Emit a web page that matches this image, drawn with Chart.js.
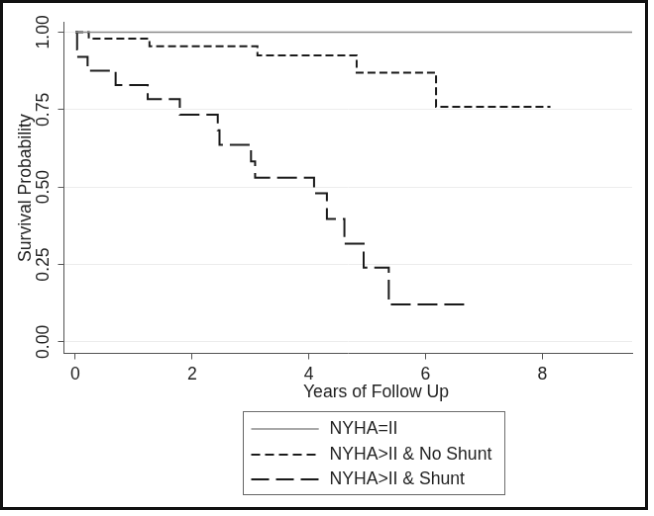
<!DOCTYPE html>
<html>
<head>
<meta charset="utf-8">
<title>Survival by NYHA class and shunt</title>
<script src="https://cdn.jsdelivr.net/npm/chart.js@4.4.0/dist/chart.umd.min.js"></script>
<style>
  html, body { margin: 0; padding: 0; background: #fff; }
  #km { display: block; border: 3px solid #111; }
</style>
</head>
<body>
<canvas id="km" width="648" height="510"></canvas>
<script>
// Kaplan-Meier estimates (time in years, survival probability)
const seriesLabels = ['NYHA=II', 'NYHA>II & No Shunt', 'NYHA>II & Shunt'];

const nyha2Times = [0, 9.54];
const nyha2Surv  = [1, 1];

const noShuntTimes = [0, 0.23, 1.27, 3.12, 4.82, 6.18, 8.14];
const noShuntSurv  = [1, 0.979, 0.954, 0.925, 0.869, 0.759, 0.759];

const shuntTimes = [0, 0.03, 0.05, 0.21, 0.69, 1.24, 1.79, 2.44, 2.47, 3.01, 3.08, 4.09, 4.31, 4.61, 4.94, 5.37, 6.76];
const shuntSurv  = [1, 0.944, 0.92, 0.875, 0.829, 0.784, 0.733, 0.683, 0.636, 0.583, 0.53, 0.48, 0.397, 0.317, 0.24, 0.121, 0.121];

const xTicks = [0, 2, 4, 6, 8];
const yTicks = [0, 0.25, 0.5, 0.75, 1];

const xTitle = 'Years of Follow Up';
const yTitle = 'Survival Probability';

const FONT = '"Liberation Sans", Arial, sans-serif';
const FONT_SIZE = 17.6;
const AXIS = '#555';

const toPoints = (times, surv) => times.map((t, i) => ({ x: t, y: surv[i] }));

// x title and boxed legend are drawn by hand (Stata style)
const kmExtras = {
    id: 'kmExtras',
    afterDraw(chart) {
        const ctx = chart.ctx;
        ctx.save();
        ctx.fillStyle = '#222';
        ctx.font = FONT_SIZE + 'px ' + FONT;
        ctx.textAlign = 'center';
        ctx.textBaseline = 'middle';
        ctx.fillText(xTitle, 376.5, 394);

        // legend box
        ctx.strokeStyle = '#666';
        ctx.lineWidth = 1;
        ctx.strokeRect(242.5, 413.5, 264, 84);

        const rows = [431, 457, 482];
        const legendDash = [[], [9, 5], [18, 7]];
        chart.data.datasets.forEach((ds, i) => {
            const y = rows[i];
            ctx.beginPath();
            ctx.setLineDash(legendDash[i]);
            ctx.strokeStyle = ds.borderColor;
            ctx.lineWidth = ds.borderWidth;
            ctx.moveTo(250.5, y);
            ctx.lineTo(318.7, y);
            ctx.stroke();
            ctx.setLineDash([]);
            ctx.fillStyle = '#222';
            ctx.textAlign = 'left';
            ctx.fillText(ds.label, 329.5, y);
        });
        ctx.restore();
    }
};

new Chart(document.getElementById('km').getContext('2d'), {
    type: 'line',
    data: {
        datasets: [
            {
                label: seriesLabels[0],
                data: toPoints(nyha2Times, nyha2Surv),
                borderColor: '#8a8a8a',
                borderWidth: 1.5,
                stepped: true,
                pointRadius: 0
            },
            {
                label: seriesLabels[1],
                data: toPoints(noShuntTimes, noShuntSurv),
                borderColor: '#1a1a1a',
                borderWidth: 2,
                borderDash: [8, 4],
                stepped: true,
                pointRadius: 0
            },
            {
                label: seriesLabels[2],
                data: toPoints(shuntTimes, shuntSurv),
                borderColor: '#1a1a1a',
                borderWidth: 2,
                borderDash: [20, 7],
                stepped: true,
                pointRadius: 0
            }
        ]
    },
    options: {
        responsive: false,
        animation: false,
        layout: {
            padding: { left: 0, right: 13, top: 19.7, bottom: 125.5 }
        },
        plugins: {
            legend: { display: false },
            tooltip: { enabled: false }
        },
        scales: {
            x: {
                type: 'linear',
                min: -0.195,
                max: 9.54,
                afterBuildTicks: (scale) => { scale.ticks = xTicks.map(v => ({ value: v })); },
                afterFit: (scale) => { scale.height = 30; },
                border: { display: true, color: AXIS, width: 1 },
                grid: { drawOnChartArea: false, tickLength: 6, tickColor: AXIS },
                ticks: {
                    color: '#222',
                    padding: 5,
                    maxRotation: 0,
                    font: { family: FONT, size: FONT_SIZE }
                }
            },
            y: {
                type: 'linear',
                min: -0.037,
                max: 1.031,
                afterBuildTicks: (scale) => { scale.ticks = yTicks.map(v => ({ value: v })); },
                afterFit: (scale) => { scale.width = 61.5; },
                border: { display: true, color: AXIS, width: 1 },
                grid: { color: '#ececec', lineWidth: 1, tickLength: 6, tickColor: AXIS },
                ticks: {
                    color: '#222',
                    padding: -2.5,
                    minRotation: 90,
                    maxRotation: 90,
                    crossAlign: 'center',
                    font: { family: FONT, size: FONT_SIZE },
                    callback: (v) => v.toFixed(2)
                },
                title: {
                    display: true,
                    text: yTitle,
                    color: '#222',
                    padding: { top: 12.4, bottom: 0 },
                    font: { family: FONT, size: FONT_SIZE }
                }
            }
        }
    },
    plugins: [kmExtras]
});
</script>
</body>
</html>
